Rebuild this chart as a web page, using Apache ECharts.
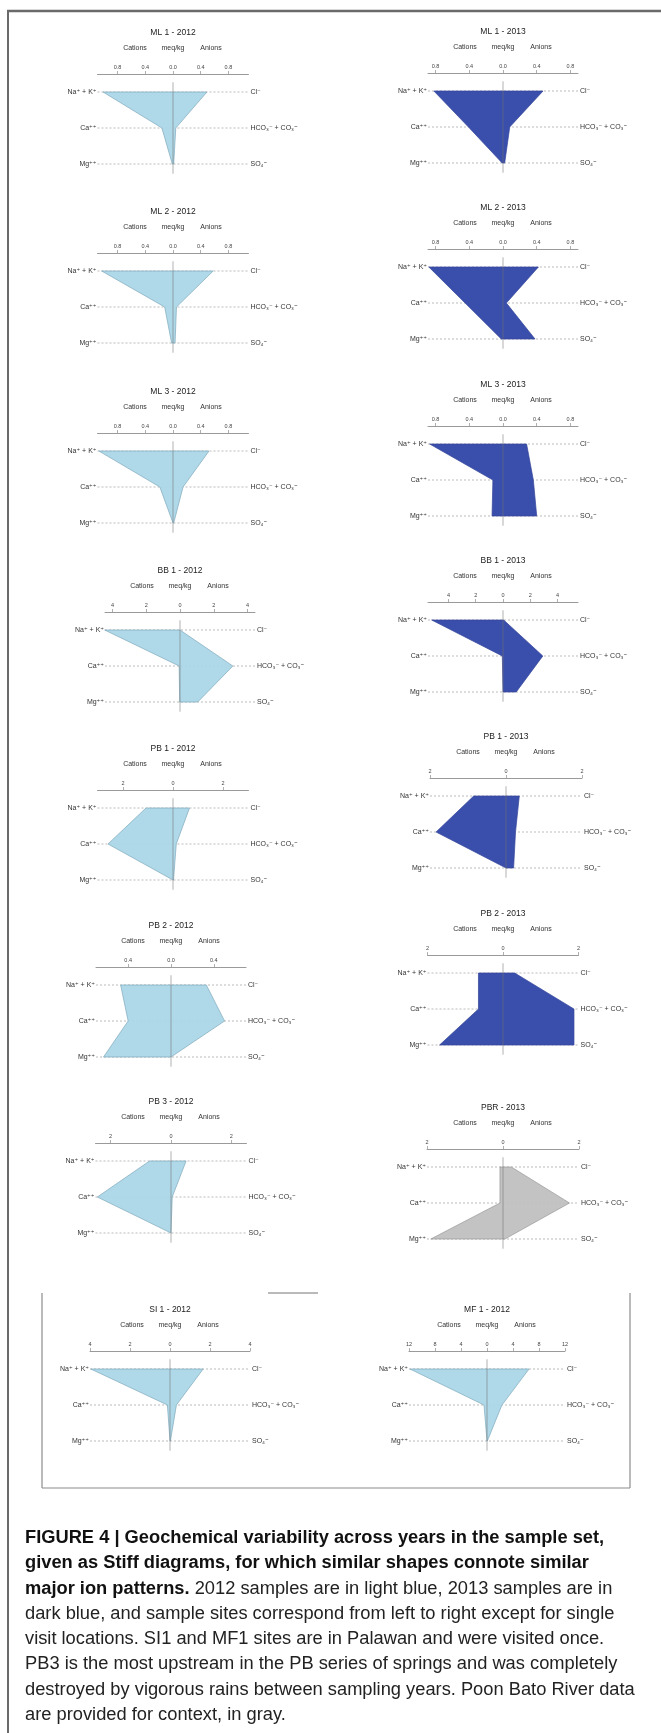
<!DOCTYPE html>
<html><head><meta charset="utf-8">
<script src="https://cdn.jsdelivr.net/npm/echarts@6/dist/echarts.min.js"></script>
<style>
html,body{margin:0;padding:0;background:#fff;}
#wrap{position:relative;width:661px;height:1733px;overflow:hidden;}
#chart{position:absolute;left:0;top:0;width:661px;height:1733px;}
#caption{position:absolute;left:25px;top:1524px;font-family:'Liberation Sans Narrow','Liberation Sans',Arial,sans-serif;font-size:18.3px;line-height:25.3px;color:#222;white-space:nowrap;}
#caption b{color:#111;}
</style></head>
<body><div id="wrap"><div id="chart"></div>
<div id="caption"><b>FIGURE 4 | Geochemical variability across years in the sample set,</b><br><b>given as Stiff diagrams, for which similar shapes connote similar</b><br><b>major ion patterns.</b> 2012 samples are in light blue, 2013 samples are in<br>dark blue, and sample sites correspond from left to right except for single<br>visit locations. SI1 and MF1 sites are in Palawan and were visited once.<br>PB3 is the most upstream in the PB series of springs and was completely<br>destroyed by vigorous rains between sampling years. Poon Bato River data<br>are provided for context, in gray.</div>
</div>
<script>
// ---- data (meq/kg) ----
const sampleNames = ['ML 1 - 2012','ML 2 - 2012','ML 3 - 2012','BB 1 - 2012','PB 1 - 2012','PB 2 - 2012','PB 3 - 2012','SI 1 - 2012',
                     'ML 1 - 2013','ML 2 - 2013','ML 3 - 2013','BB 1 - 2013','PB 1 - 2013','PB 2 - 2013','PBR - 2013','MF 1 - 2012'];
const naK     = [1.01, 1.03, 1.07, 4.46, 1.08, 0.47, 0.71, 3.96,  0.82, 0.88, 0.87, 5.23, 0.85, 0.65, 0.08, 11.85];
const ca      = [0.16, 0.12, 0.19, 0.05, 2.60, 0.40, 2.44, 0.13,  0.41, 0.45, 0.12, 0.05, 1.84, 0.65, 0.08, 0.46];
const mg      = [0.01, 0.02, 0.00, 0.02, 0.00, 0.63, 0.00, 0.00,  0.01, 0.02, 0.13, 0.00, 0.00, 1.68, 1.90, 0.00];
const cl      = [0.49, 0.58, 0.52, 0.00, 0.66, 0.33, 0.50, 1.66,  0.475,0.42, 0.28, 0.05, 0.35, 0.31, 0.22, 6.47];
const hco3co3 = [0.04, 0.05, 0.145,3.13, 0.13, 0.50, 0.04, 0.32,  0.08, 0.04, 0.36, 2.92, 0.25, 1.88, 1.75, 2.30];
const so4     = [0.01, 0.03, 0.01, 1.05, 0.02, 0.00, 0.00, 0.02,  0.02, 0.38, 0.40, 0.97, 0.20, 1.88, 0.05, 0.05];
const axisExtent = [1.09, 1.09, 1.09, 4.44, 3.02, 0.70, 2.5, 4,  0.89, 0.89, 0.89, 5.5, 2, 2, 2, 12];
const tickMagnitudes = [[0.8,0.4,0],[0.8,0.4,0],[0.8,0.4,0],[4,2,0],[2,0],[0.4,0],[2,0],[4,2,0],
                        [0.8,0.4,0],[0.8,0.4,0],[0.8,0.4,0],[4,2,0],[2,0],[2,0],[2,0],[12,8,4,0]];
const sampleYear = ['2012','2012','2012','2012','2012','2012','2012','2012','2013','2013','2013','2013','2013','2013','river','2012'];
const cationLabels = ['Na⁺ + K⁺','Ca⁺⁺','Mg⁺⁺'];
const anionLabels  = ['Cl⁻','HCO₃⁻ + CO₃⁼','SO₄⁼'];
const headerWords  = ['Cations','meq/kg','Anions'];

// ---- layout ----
const centerX = [173,173,173,180,173,171,171,170, 503,503,503,503,506,503,503,487];
const titleY  = [33,212,392,571,749,926,1102,1310, 32,208,385,561,737,914,1108,1310];
const halfW   = [75.5,75.5,75.5,75,75.5,75,75.5,80, 75,75,75,75,76,75.5,76,78];
const ROW = 36;
const FONT = "'Liberation Sans', Arial, 'DejaVu Sans', sans-serif";
const fills = {
  '2012': {fill:'rgba(168,214,230,0.92)', stroke:'#7fa9bb'},
  '2013': {fill:'#3a4eab', stroke:'#34459a'},
  'river':{fill:'rgba(190,190,190,0.92)', stroke:'#9a9a9a'}
};

const grids=[], xAxes=[], yAxes=[], series=[], graphics=[];

function makeRender(i){
  return function(params, api){
    const ext = axisExtent[i];
    const v = [0,1,2,3,4,5].map(k=>api.value(k));
    const P = (x,y)=>api.coord([x,y]);
    const ch = [];
    for (let r=0;r<3;r++){
      const a=P(-ext,r), b=P(ext,r);
      ch.push({type:'line', shape:{x1:a[0],y1:a[1],x2:b[0],y2:b[1]},
               style:{stroke:'#ababab', lineWidth:0.8, lineDash:[2,2]}});
    }
    const c = fills[sampleYear[i]];
    ch.push({type:'polygon', shape:{points:[P(-v[0],0),P(-v[1],1),P(-v[2],2),P(v[5],2),P(v[4],1),P(v[3],0)]},
             style:{fill:c.fill, stroke:c.stroke, lineWidth:0.7}});
    const z1=P(0,-0.27), z2=P(0,2.27);
    ch.push({type:'line', shape:{x1:z1[0],y1:z1[1],x2:z2[0],y2:z2[1]},
             style:{stroke:'rgba(115,115,115,0.7)', lineWidth:0.8}});
    for (let r=0;r<3;r++){
      const a=P(-ext,r), b=P(ext,r);
      ch.push({type:'text', x:a[0]-1, y:a[1], style:{text:cationLabels[r], fontSize:7, fontFamily:FONT, fill:'#333', align:'right', verticalAlign:'middle'}});
      ch.push({type:'text', x:b[0]+2, y:b[1], style:{text:anionLabels[r], fontSize:7, fontFamily:FONT, fill:'#333', align:'left', verticalAlign:'middle'}});
    }
    return {type:'group', children:ch};
  };
}

for (let i=0;i<sampleNames.length;i++){
  const top = titleY[i] + 41;
  grids.push({left:centerX[i]-halfW[i], width:2*halfW[i], top:top, height:2.8*ROW, containLabel:false});
  const mags = tickMagnitudes[i];
  const ticks = Array.from(new Set([...mags.map(m=>-m), ...mags])).sort((a,b)=>a-b);
  const dec = mags.some(m=>m%1!==0) ? 1 : 0;
  xAxes.push({gridIndex:i, type:'value', position:'top', min:-axisExtent[i], max:axisExtent[i],
    axisLine:{show:true, onZero:false, lineStyle:{color:'#9a9a9a', width:1}},
    axisTick:{show:true, length:3, customValues:ticks, lineStyle:{color:'#9a9a9a', width:0.8}},
    axisLabel:{show:true, customValues:ticks, margin:4, fontSize:5.5, fontFamily:FONT, color:'#444',
               formatter:(val)=>Math.abs(val).toFixed(dec)},
    splitLine:{show:false}});
  yAxes.push({gridIndex:i, type:'value', min:-0.5, max:2.3, inverse:true, show:false});
  series.push({type:'custom', xAxisIndex:i, yAxisIndex:i, silent:true, clip:false,
    data:[[naK[i], ca[i], mg[i], cl[i], hco3co3[i], so4[i]]], renderItem:makeRender(i)});
  graphics.push({type:'text', x:centerX[i], y:titleY[i], style:{text:sampleNames[i], fontSize:8.5, fontFamily:FONT, fill:'#222', align:'center', verticalAlign:'middle'}});
  [-38,0,38].forEach((dx,k)=>graphics.push({type:'text', x:centerX[i]+dx, y:titleY[i]+15,
     style:{text:headerWords[k], fontSize:7, fontFamily:FONT, fill:'#333', align:'center', verticalAlign:'middle'}}));
}
// frame and inset box
const frame = '#6a6a6a', box = '#8c8c8c';
graphics.push({type:'line', shape:{x1:7, y1:11, x2:661, y2:11}, style:{stroke:frame, lineWidth:2.4}});
graphics.push({type:'line', shape:{x1:8, y1:10, x2:8, y2:1733}, style:{stroke:frame, lineWidth:2}});
graphics.push({type:'line', shape:{x1:42, y1:1293, x2:42, y2:1488}, style:{stroke:box, lineWidth:1.2}});
graphics.push({type:'line', shape:{x1:630, y1:1293, x2:630, y2:1488}, style:{stroke:box, lineWidth:1.2}});
graphics.push({type:'line', shape:{x1:42, y1:1488, x2:630, y2:1488}, style:{stroke:box, lineWidth:1.2}});
graphics.push({type:'line', shape:{x1:268, y1:1293, x2:318, y2:1293}, style:{stroke:'#777', lineWidth:1.2}});

const chart = echarts.init(document.getElementById('chart'), null, {renderer:'canvas'});
chart.setOption({animation:false, backgroundColor:'#fff', grid:grids, xAxis:xAxes, yAxis:yAxes, series:series, graphic:graphics});
</script></body></html>
